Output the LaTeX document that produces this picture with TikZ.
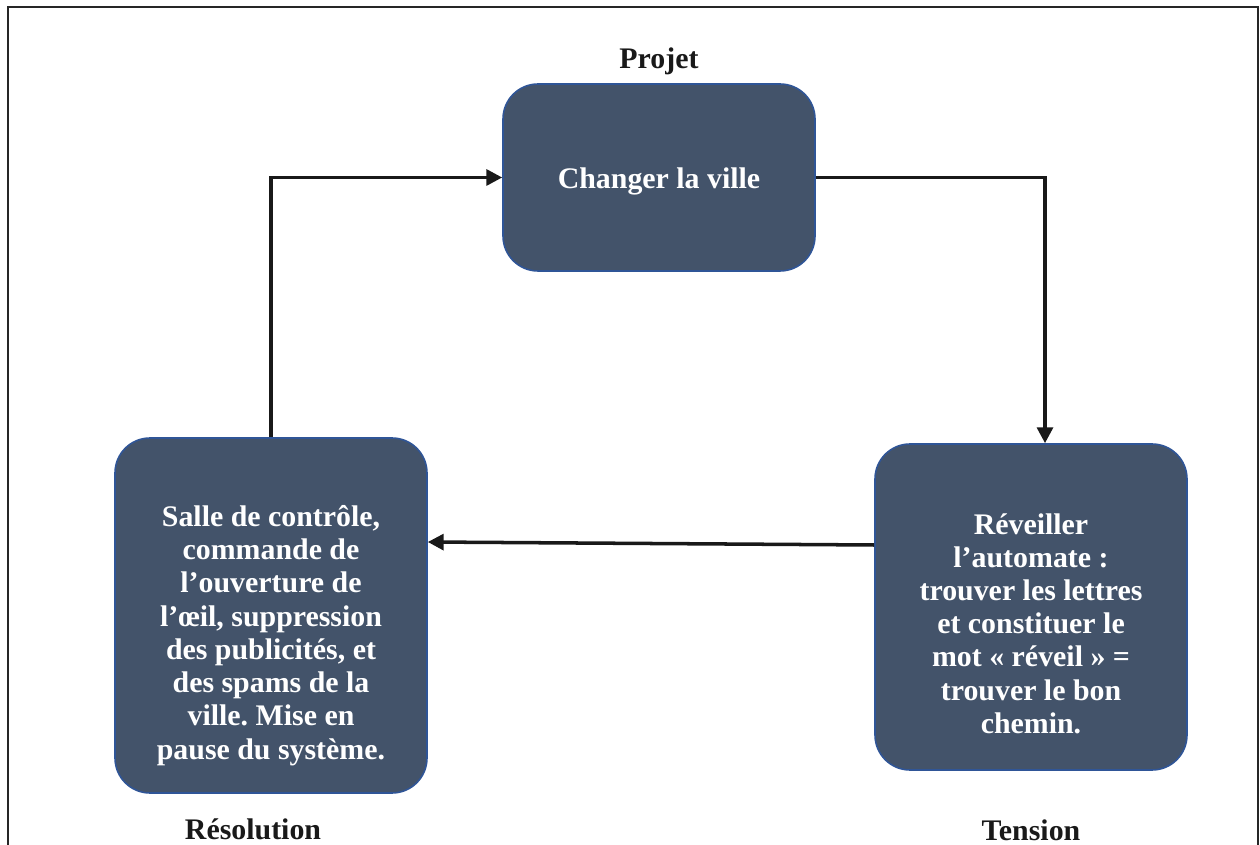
\documentclass[tikz,border=0pt]{standalone}
\usepackage{fontspec}
\setmainfont{Liberation Serif}
\usepackage{xcolor}
\usepackage{tikz}
\usetikzlibrary{arrows.meta,positioning}
\definecolor{stagefill}{RGB}{67,83,106}
\definecolor{stageline}{RGB}{47,85,151}
\frenchspacing
\tikzset{
    stage/.style={rectangle, draw=stageline, line width=0.9pt, rounded corners=0.7cm, fill=stagefill, minimum width=6.24cm},
    stagetext/.style={text=white, align=center, font=\bfseries\fontsize{17}{18.9}\selectfont},
    caption/.style={font=\bfseries\fontsize{17}{18.9}\selectfont, text=black!90},
    flow/.style={-{Triangle[length=9pt,width=9pt]}, line width=2pt, black!90},
    frame/.style={line width=1.3pt, black!85},
}
\begin{document}
\begin{tikzpicture}
    \useasboundingbox (0,0) rectangle (25.2,-16.9);
    \draw[frame] (0.16,-16.9) -- (0.16,-0.14) -- (25.16,-0.14) -- (25.16,-16.9);

    \node[stage, minimum height=3.74cm] (proj) at (13.18,-3.55) {};
    \node[stage, minimum height=7.1cm] (res) at (5.42,-12.31) {};
    \node[stage, minimum height=6.52cm] (tens) at (20.62,-12.14) {};

    \node[stagetext] (projtxt) at ([yshift=-0.08cm]proj.center) {Changer la ville};
    \node[stagetext] (restxt) at ([yshift=-0.4cm]res.center) {Salle de contrôle,\\ commande de\\ l’ouverture de\\ l’œil, suppression\\ des publicités, et\\ des spams de la\\ ville. Mise en\\ pause du système.};
    \node[stagetext] (tenstxt) at ([yshift=-0.33cm]tens.center) {Réveiller\\ l’automate :\\ trouver les lettres\\ et constituer le\\ mot « réveil » =\\ trouver le bon\\ chemin.};

    \node[caption, above=0.05cm of proj] (projlbl) {Projet};
    \node[caption, below=0.38cm of res, xshift=-0.36cm] (reslbl) {Résolution};
    \node[caption, below=0.85cm of tens] (tenslbl) {Tension};

    \draw[flow] (res.north) |- (proj.west);
    \draw[flow] (proj.east) -| ([xshift=0.28cm]tens.north);
    \draw[flow] ([yshift=1.24cm]tens.west) -- ([yshift=1.47cm]res.east);
\end{tikzpicture}
\end{document}
